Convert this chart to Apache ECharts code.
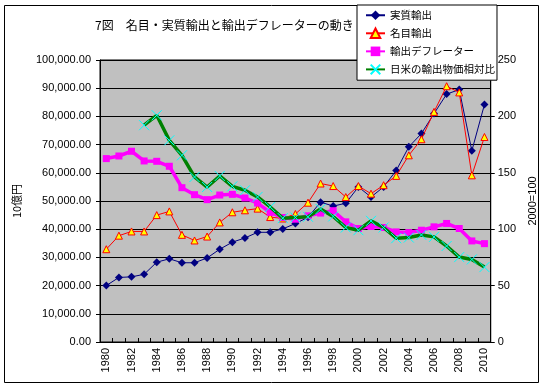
<!DOCTYPE html>
<html>
<head>
<meta charset="utf-8">
<script src="https://cdn.jsdelivr.net/npm/echarts@6/dist/echarts.min.js"></script>
<style>html,body{margin:0;padding:0;background:#fff;}#c{width:546px;height:391px;}</style>
</head>
<body>
<div id="c"></div>
<script>
var years = ['1980','1981','1982','1983','1984','1985','1986','1987','1988','1989','1990','1991','1992','1993','1994','1995','1996','1997','1998','1999','2000','2001','2002','2003','2004','2005','2006','2007','2008','2009','2010'];
var realExports = [20000,22900,23100,24000,28300,29500,28100,28100,29800,32900,35400,36900,38900,38900,40100,42000,44200,49600,48200,49200,55000,51400,55000,60800,69200,73900,81000,87900,89500,67800,84200];
var nominalExports = [32900,37700,39200,39200,45000,46300,38000,36000,37400,42400,46000,46700,47300,44300,43800,45400,49400,56200,55300,51400,55300,52600,55600,58900,66200,71900,81600,90700,88500,59100,72700];
var deflator = [162.6,164.9,169.1,160.5,160.2,155.8,136.8,130.6,126.2,130.3,130.9,127.7,123.2,114.9,110.4,108.9,111.9,114.3,116.4,106.5,100.6,102.4,101.5,97.6,97.0,99.1,102.1,105.1,100.6,89.6,87.2];
var relativePrice = [null,null,null,192.2,201.0,178.8,165.5,146.3,137.4,147.2,138.0,134.5,128.6,119.7,109.8,110.4,111.0,117.9,111.3,101.5,99.1,107.4,101.5,92.0,92.6,94.9,93.2,85.1,75.3,73.2,66.4];
var seriesNames = ['実質輸出','名目輸出','輸出デフレーター','日米の輸出物価相対比'];
var titleText = '7図　名目・実質輸出と輸出デフレーターの動き';
var leftAxisName = '10億円';
var rightAxisName = '2000=100';

var chart = echarts.init(document.getElementById('c'), null, {renderer:'canvas'});
var numFont = "'Liberation Sans', Arial, sans-serif";
var jpFont = "'Noto Sans CJK JP', sans-serif";
chart.setOption({
  animation: false,
  backgroundColor: '#fff',
  textStyle: {fontFamily: jpFont, color: '#000'},
  title: {text: titleText, left: 90, top: 14, textStyle: {fontSize: 12, fontWeight: 'normal', color: '#000', fontFamily: jpFont}},
  graphic: [{type: 'rect', shape: {x: 4.5, y: 5.5, width: 534, height: 377}, style: {fill: 'none', stroke: '#000', lineWidth: 1}, z: 0, silent: true}],
  legend: {
    orient: 'vertical', left: 357, top: 5,
    padding: [5, 2, 5, 8], itemGap: 7, itemWidth: 19, itemHeight: 12,
    backgroundColor: '#fff', borderColor: '#000', borderWidth: 1,
    textStyle: {fontSize: 10.5, color: '#000', fontFamily: jpFont},
    data: seriesNames, z: 10
  },
  grid: {left: 100, top: 60, right: 47, bottom: 49, show: true, backgroundColor: '#C0C0C0', borderColor: '#000', borderWidth: 1},
  xAxis: {
    type: 'category', data: years, boundaryGap: true,
    axisLine: {lineStyle: {color: '#000', width: 1}},
    axisTick: {show: true, inside: true, length: 4, interval: 0, lineStyle: {color: '#000'}},
    axisLabel: {interval: 1, rotate: 90, margin: 6, fontSize: 11, color: '#000', fontFamily: numFont}
  },
  yAxis: [{
    type: 'value', min: 0, max: 100000, interval: 10000, position: 'left',
    name: leftAxisName, nameLocation: 'middle', nameRotate: 90, nameGap: 78,
    nameTextStyle: {fontSize: 11, color: '#000', fontFamily: jpFont},
    axisLine: {show: true, lineStyle: {color: '#000'}},
    axisTick: {show: true, length: 4, lineStyle: {color: '#000'}},
    splitLine: {show: true, lineStyle: {color: '#000', width: 1}},
    axisLabel: {fontSize: 11, color: '#000', margin: 9, fontFamily: numFont,
      formatter: function(v){ return v.toLocaleString('en-US', {minimumFractionDigits: 2, maximumFractionDigits: 2}); }}
  }, {
    type: 'value', min: 0, max: 250, interval: 50, position: 'right',
    name: rightAxisName, nameLocation: 'middle', nameRotate: 90, nameGap: 20,
    nameTextStyle: {fontSize: 11, color: '#000', fontFamily: numFont},
    axisLine: {show: true, lineStyle: {color: '#000'}},
    axisTick: {show: true, length: 4, lineStyle: {color: '#000'}},
    splitLine: {show: false},
    axisLabel: {fontSize: 11, color: '#000', margin: 7, fontFamily: numFont}
  }],
  series: [{
    name: seriesNames[0], type: 'line', yAxisIndex: 0, data: realExports,
    symbol: 'diamond', symbolSize: 8, showSymbol: true, showAllSymbol: true,
    itemStyle: {color: '#000080'}, lineStyle: {color: '#000080', width: 1}, z: 2
  }, {
    name: seriesNames[1], type: 'line', yAxisIndex: 0, data: nominalExports,
    symbol: 'triangle', symbolSize: 7, showSymbol: true, showAllSymbol: true,
    itemStyle: {color: '#FFFF00', borderColor: '#FF0000', borderWidth: 1},
    lineStyle: {color: '#FF0000', width: 1}, z: 3
  }, {
    name: seriesNames[2], type: 'line', yAxisIndex: 1, data: deflator,
    symbol: 'rect', symbolSize: 7, showSymbol: true, showAllSymbol: true,
    itemStyle: {color: '#FF00FF'}, lineStyle: {color: '#FF00FF', width: 3.5}, z: 4
  }, {
    name: seriesNames[3], type: 'line', yAxisIndex: 1, data: relativePrice,
    symbol: 'path://M0,0L10,10M10,0L0,10', symbolSize: 10, showSymbol: true, showAllSymbol: true,
    itemStyle: {color: '#00FFFF', borderColor: '#00FFFF', borderWidth: 1},
    lineStyle: {color: '#008000', width: 3.5}, z: 5
  }]
});
</script>
</body>
</html>
